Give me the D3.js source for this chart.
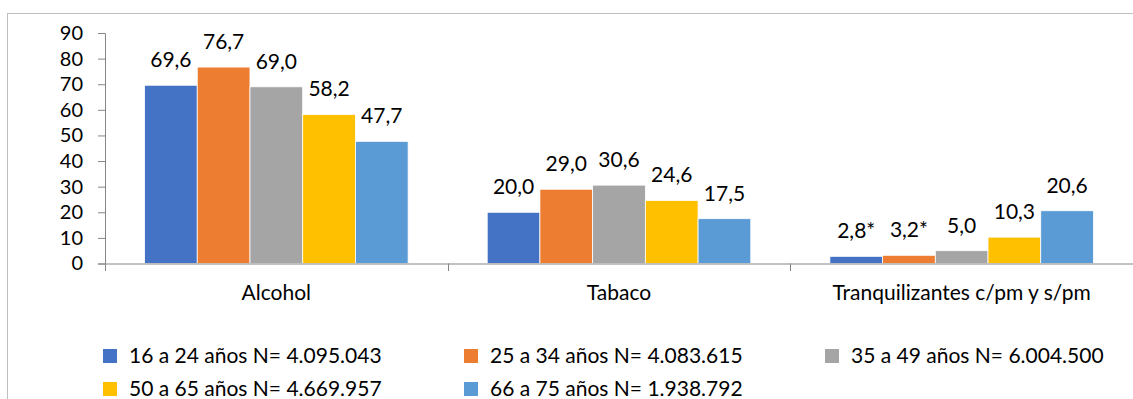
<!DOCTYPE html>
<html><head><meta charset="utf-8">
<script src="https://cdn.jsdelivr.net/npm/d3@7"></script>
<style>body{margin:0;background:#fff;}svg{display:block;font-family:Lato,"Open Sans",sans-serif;}</style>
</head><body>
<svg id="c" width="1133" height="399"></svg>
<script>
const categories = ["Alcohol","Tabaco","Tranquilizantes c/pm y s/pm"];
const seriesNames = ["16 a 24 años N= 4.095.043","25 a 34 años N= 4.083.615","35 a 49 años N= 6.004.500","50 a 65 años N= 4.669.957","66 a 75 años N= 1.938.792"];
const values = [
  [69.6,20.0,2.8],
  [76.7,29.0,3.2],
  [69.0,30.6,5.0],
  [58.2,24.6,10.3],
  [47.7,17.5,20.6]
];
const labels = [
  ["69,6","20,0","2,8*"],
  ["76,7","29,0","3,2*"],
  ["69,0","30,6","5,0"],
  ["58,2","24,6","10,3"],
  ["47,7","17,5","20,6"]
];
const yTicks = [0,10,20,30,40,50,60,70,80,90];
const colors = ["#4472C4","#ED7D31","#A5A5A5","#FFC000","#5B9BD5"];

const svg = d3.select("#c");
// outer border
svg.append("rect").attr("x",7.5).attr("y",13.5).attr("width",1140).attr("height",400)
  .attr("fill","none").attr("stroke","#BFBFBF").attr("stroke-width",1);

const x0 = d3.scaleBand().domain(categories).range([105,1133]).paddingInner(0).paddingOuter(0);
const x1 = d3.scaleBand().domain(d3.range(5)).range([0,x0.bandwidth()]).paddingOuter(0.75).paddingInner(0);
const y = d3.scaleLinear().domain([0,90]).range([263.5,33]);

// y axis
const ya = svg.append("g").attr("transform","translate(105,0)")
  .call(d3.axisLeft(y).tickValues(yTicks).tickSize(7).tickPadding(15));
ya.select(".domain").attr("stroke","#868686");
ya.selectAll(".tick line").attr("stroke","#868686");
ya.selectAll("text").attr("font-size",20).attr("fill","#000").attr("font-family","Lato,sans-serif");

// bars
categories.forEach((c,ci)=>{
  const g = svg.append("g").attr("transform",`translate(${x0(c)},0)`);
  d3.range(5).forEach(si=>{
    g.append("rect").attr("x",x1(si)).attr("y",y(values[si][ci]))
      .attr("width",x1.bandwidth()).attr("height",y(0)-y(values[si][ci]))
      .attr("fill",colors[si]).attr("stroke","#fff").attr("stroke-width",0.8);
    g.append("text").attr("x",x1(si)+x1.bandwidth()/2).attr("y",y(values[si][ci])-18)
      .attr("text-anchor","middle").attr("font-size",21).attr("fill","#000").text(labels[si][ci]);
  });
});

// x axis
const xa = svg.append("g").attr("transform","translate(0,263.5)")
  .call(d3.axisBottom(x0).tickSize(0).tickPadding(22));
xa.select(".domain").attr("stroke","#868686");
xa.selectAll("text").attr("font-size",21).attr("fill","#000").attr("font-family","Lato,sans-serif");
// category separator ticks
const bounds = categories.map(c=>x0(c)).concat([x0.range()[1]]);
svg.append("g").selectAll("line").data(bounds).join("line")
  .attr("x1",d=>Math.round(d)+0.5).attr("x2",d=>Math.round(d)+0.5).attr("y1",263.5).attr("y2",271).attr("stroke","#868686");

// legend
const legPos = [[103,356],[464,356],[825,356],[103,389],[464,389]];
seriesNames.forEach((n,i)=>{
  const [lx,ly] = legPos[i];
  svg.append("rect").attr("x",lx).attr("y",ly-7).attr("width",14).attr("height",14).attr("fill",colors[i]);
  svg.append("text").attr("x",lx+26).attr("y",ly).attr("dy","0.35em")
    .attr("font-size",21).attr("fill","#000").text(n);
});
</script>
</body></html>
